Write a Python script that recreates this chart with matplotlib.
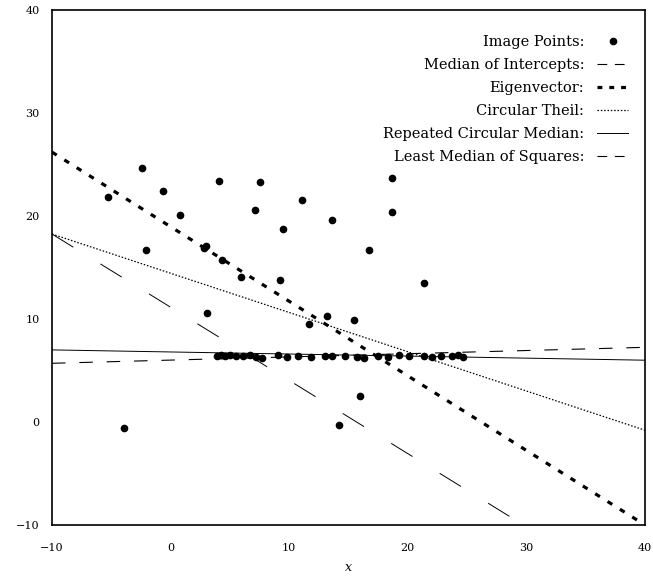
import numpy as np
import matplotlib
matplotlib.use("Agg")
import matplotlib.pyplot as plt
from matplotlib.lines import Line2D

plt.rcParams['font.family'] = 'DejaVu Serif'
plt.rcParams['mathtext.fontset'] = 'dejavuserif'
plt.rcParams['lines.scale_dashes'] = False

# image points
pts_x = [-5.3, -2.4, -2.1, -0.6, 0.8, -3.9, 2.8, 3.0, 3.1, 4.1, 4.3, 5.9,
         7.5, 7.1, 11.1, 9.5, 13.6, 9.2, 11.7, 13.2, 15.5, 16.0, 14.2, 16.7,
         18.7, 18.7, 21.4,
         3.9, 4.25, 4.6, 5.0, 5.5, 6.1, 6.7, 7.2, 7.7, 9.06, 9.8, 10.7, 11.8,
         13.0, 13.6, 14.7, 15.7, 16.3, 17.5, 18.3, 19.3, 20.1, 21.4, 22.0,
         22.8, 23.7, 24.2, 24.65]
pts_y = [21.8, 24.7, 16.7, 22.4, 20.1, -0.6, 16.9, 17.1, 10.6, 23.4, 15.7, 14.1,
         23.3, 20.6, 21.6, 18.7, 19.6, 13.8, 9.5, 10.3, 9.9, 2.5, -0.3, 16.7,
         23.7, 20.4, 13.5,
         6.4, 6.5, 6.4, 6.5, 6.4, 6.4, 6.5, 6.3, 6.2, 6.5, 6.3, 6.4, 6.3,
         6.4, 6.4, 6.4, 6.3, 6.2, 6.4, 6.3, 6.5, 6.4, 6.4, 6.3,
         6.4, 6.4, 6.5, 6.3]

# fitted lines: (value at x=-10, value at x=40)
x_line = np.array([-10.0, 40.0])
median_intercepts = [5.7, 7.25]
eigenvector = [26.2, -10.0]
circular_theil = [18.25, -0.8]
repeated_median = [7.0, 6.0]
lms_x = [-10.0, 29.75]
lms_y = [18.25, -10.0]

labels = ['Image Points:', 'Median of Intercepts:', 'Eigenvector:',
          'Circular Theil:', 'Repeated Circular Median:',
          'Least Median of Squares:']

fig = plt.figure(figsize=(6.53, 5.78), dpi=100)
ax = fig.add_axes([52 / 653, 1 - 525 / 578, 593 / 653, 515 / 578])

ax.plot(pts_x, pts_y, 'o', color='black', markersize=4.5, linestyle='none')
ax.plot(x_line, median_intercepts, color='black', lw=0.8,
        linestyle=(0, (9.7, 10.0)))
ax.plot(x_line, eigenvector, color='black', lw=2.3,
        linestyle=(0, (4.0, 6.5)))
ax.plot(x_line, circular_theil, color='black', lw=0.9,
        linestyle=(0, (1.1, 1.3)))
ax.plot(x_line, repeated_median, color='black', lw=0.7)
ax.plot(lms_x, lms_y, color='black', lw=0.7,
        linestyle=(0, (18.0, 23.0)))

ax.set_xlim(-10, 40)
ax.set_ylim(-10, 40)
ax.set_xticks([-10, 0, 10, 20, 30, 40])
ax.set_yticks([-10, 0, 10, 20, 30, 40])
ax.tick_params(axis='both', length=0, labelsize=8)
ax.tick_params(axis='x', pad=13)
ax.tick_params(axis='y', pad=9)
for s in ax.spines.values():
    s.set_linewidth(1.2)
ax.set_xlabel('$x$', fontsize=9, labelpad=6)

# legend keys with shorter dash patterns, as in the reference
handles = [
    Line2D([], [], marker='o', color='black', markersize=4.5, linestyle='none'),
    Line2D([], [], color='black', lw=0.8, linestyle=(0, (7.0, 5.5))),
    Line2D([], [], color='black', lw=2.3, linestyle=(0, (3.5, 5.0))),
    Line2D([], [], color='black', lw=0.9, linestyle=(0, (1.1, 1.3))),
    Line2D([], [], color='black', lw=0.7),
    Line2D([], [], color='black', lw=0.8, linestyle=(0, (7.0, 5.5))),
]
ax.legend(handles, labels, loc='upper right', frameon=False, markerfirst=False,
          fontsize=10.5, handlelength=2.1, labelspacing=0.62,
          borderaxespad=0, bbox_to_anchor=(0.981, 0.963),
          handletextpad=0.9, borderpad=0.4)

fig.savefig('out.png', dpi=100)
